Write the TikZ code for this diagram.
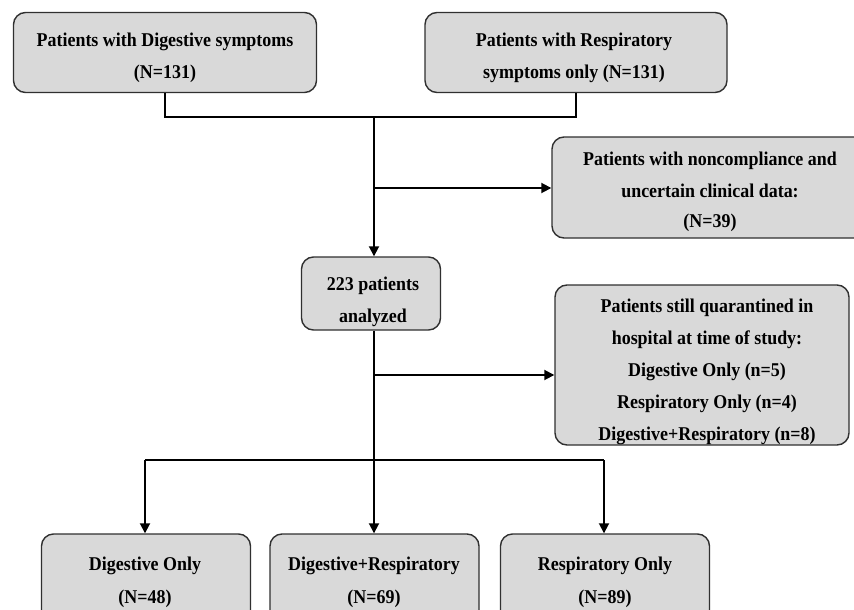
\documentclass[tikz,border=0pt]{standalone}
\usepackage{fontspec}
\setmainfont{Liberation Serif}[FakeStretch=0.92]
\usetikzlibrary{arrows.meta}
\definecolor{boxfill}{HTML}{D9D9D9}
\definecolor{boxline}{HTML}{303030}
\begin{document}
\begin{tikzpicture}[x=1pt,y=-1pt,
  flowbox/.style={draw=boxline,line width=1.4pt,fill=boxfill,rounded corners=12pt,inner sep=0pt},
  txt/.style={anchor=base,inner sep=0pt,font=\bfseries\fontsize{19.5}{24}\selectfont},
  conn/.style={line width=1.8pt,black},
  arr/.style={conn,-{Triangle[length=10pt,width=10pt]}}]
\useasboundingbox (0,0) rectangle (854,610);
% boxes
\node[flowbox,minimum width=303pt,minimum height=80pt] (b1) at (165,52.5) {};
\node[flowbox,minimum width=302pt,minimum height=80pt] (b2) at (576,52.5) {};
\node[flowbox,minimum width=320pt,minimum height=101pt] (b3) at (712,187.5) {};
\node[flowbox,minimum width=139pt,minimum height=73pt] (b4) at (371,293.5) {};
\node[flowbox,minimum width=294pt,minimum height=160pt] (b5) at (702,365) {};
\node[flowbox,minimum width=209pt,minimum height=90pt] (b6) at (146,579) {};
\node[flowbox,minimum width=209pt,minimum height=90pt] (b7) at (374.5,579) {};
\node[flowbox,minimum width=209pt,minimum height=90pt] (b8) at (605,579) {};
% texts
\node[txt] (t1a) at (165,46.5) {Patients with Digestive symptoms};
\node[txt] (t1b) at (165,78) {(N=131)};
\node[txt] (t2a) at (574,46.5) {Patients with Respiratory};
\node[txt] (t2b) at (574,78) {symptoms only (N=131)};
\node[txt] (t3a) at (710,165) {Patients with noncompliance and};
\node[txt] (t3b) at (710,197) {uncertain clinical data:};
\node[txt] (t3c) at (710,227) {(N=39)};
\node[txt] (t4a) at (373,290) {223 patients};
\node[txt] (t4b) at (373,322) {analyzed};
\node[txt] (t5a) at (707,312) {Patients still quarantined in};
\node[txt] (t5b) at (707,344) {hospital at time of study:};
\node[txt] (t5c) at (707,376) {Digestive Only (n=5)};
\node[txt] (t5d) at (707,408) {Respiratory Only (n=4)};
\node[txt] (t5e) at (707,440) {Digestive+Respiratory (n=8)};
\node[txt] (t6a) at (145,570) {Digestive Only};
\node[txt] (t6b) at (145,603) {(N=48)};
\node[txt] (t7a) at (374,570) {Digestive+Respiratory};
\node[txt] (t7b) at (374,603) {(N=69)};
\node[txt] (t8a) at (605,570) {Respiratory Only};
\node[txt] (t8b) at (605,603) {(N=89)};
% connectors
\coordinate (j1) at (374,117);
\coordinate (j2) at (374,188);
\coordinate (j4) at (374,375);
\coordinate (h1) at (145,460);
\coordinate (h2) at (604,460);
\draw[conn] (b1.south) |- (j1) -| (b2.south);
\draw[arr] (j1) -- (j1 |- b4.north);
\draw[arr] (j2) -- (j2 -| b3.west);
\draw[arr] (j4 |- b4.south) -- (j4 |- b7.north);
\draw[arr] (j4) -- (j4 -| b5.west);
\draw[conn] (h1) -- (h2);
\draw[arr] (h1) -- (h1 |- b6.north);
\draw[arr] (h2) -- (h2 |- b8.north);
\end{tikzpicture}
\end{document}
